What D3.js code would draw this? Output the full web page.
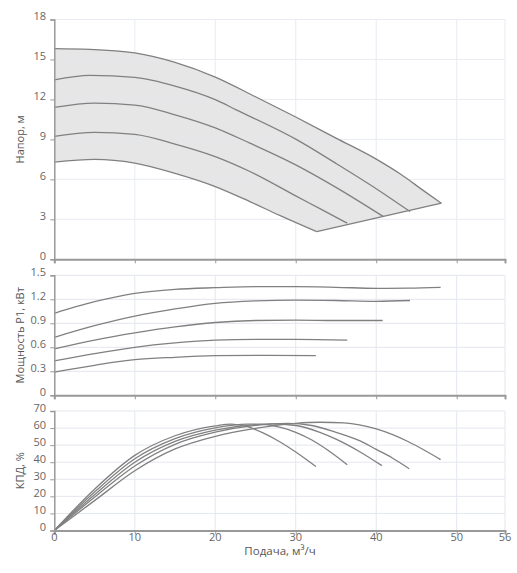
<html>
<head>
    <meta charset="utf-8">
    <title>Pump curves</title>
    <script src="https://d3js.org/d3.v7.min.js"></script>
    <style>
        body { margin: 0; background: #fff; }
        svg { font-family: "Open Sans", sans-serif; }
        .grid line { stroke: #e4e7ef; stroke-width: 1; }
        .tick-label { fill: #666; font-size: 11px; }
        .title { fill: #555; font-size: 11px; }
    </style>
</head>
<body>
<script>

    // Подача (x), м³/ч
    var xTicks = [0, 10, 20, 30, 40, 50, 56];

    // Напор, м - 5 speed curves, [flow, head]
    var head1 = [[0, 7.29], [5, 7.5], [10, 7.22], [15, 6.45], [20, 5.46], [24.3, 4.33], [28, 3.3], [32.6, 2.08]];
    var head2 = [[0, 9.22], [5, 9.53], [10, 9.37], [15, 8.65], [20, 7.71], [24.3, 6.59], [30, 4.76], [33, 3.8], [36.4, 2.71]];
    var head3 = [[0, 11.4], [5, 11.72], [10, 11.58], [15, 10.85], [20, 9.87], [24.3, 8.72], [30, 7.09], [35, 5.4], [40.9, 3.2]];
    var head4 = [[0, 13.46], [4.4, 13.8], [10, 13.65], [15, 13.0], [20, 11.98], [22.6, 11.22], [30, 9.02], [35, 7.2], [40, 5.3], [44.2, 3.58]];
    var head5 = [[0, 15.81], [4.4, 15.76], [10, 15.49], [15, 14.78], [20, 13.68], [25, 12.2], [30, 10.68], [35, 9.1], [40, 7.52], [43, 6.4], [46, 5.1], [48.1, 4.21]];
    var headTicks = [0, 3, 6, 9, 12, 15, 18];

    // Мощность P1, кВт
    var power1 = [[0, 0.29], [5, 0.375], [10, 0.445], [15, 0.475], [20, 0.495], [25, 0.5], [32.5, 0.495]];
    var power2 = [[0, 0.43], [5, 0.52], [10, 0.6], [15, 0.655], [20, 0.69], [25, 0.7], [30, 0.7], [36.4, 0.69]];
    var power3 = [[0, 0.58], [5, 0.69], [10, 0.78], [15, 0.855], [20, 0.91], [25, 0.935], [30, 0.94], [35, 0.935], [40.8, 0.935]];
    var power4 = [[0, 0.725], [5, 0.87], [10, 0.99], [15, 1.08], [20, 1.15], [25, 1.18], [30, 1.19], [35, 1.185], [40, 1.175], [44.2, 1.185]];
    var power5 = [[0, 1.025], [5, 1.17], [10, 1.275], [15, 1.325], [20, 1.345], [25, 1.358], [30, 1.358], [35, 1.35], [40, 1.337], [44, 1.34], [48, 1.35]];
    var powerTicks = [0, 0.3, 0.6, 0.9, 1.2, 1.5];

    // КПД, %
    var eff1 = [[0, 0], [5, 24.2], [10, 44], [15, 55.5], [20, 61.3], [22, 62.3], [24, 60.8], [26, 57], [28, 52], [30, 46], [32.5, 37.5]];
    var eff2 = [[0, 0], [5, 22.5], [10, 42], [15, 53.8], [20, 60.1], [24, 62.3], [26, 62.2], [28, 60.5], [30, 57.5], [32, 53], [34, 47], [36.4, 38.5]];
    var eff3 = [[0, 0], [5, 21], [10, 40], [15, 52.2], [20, 58.8], [25, 62], [27, 62.4], [30, 61.5], [33, 57.5], [35, 53.5], [38, 46], [40.7, 38]];
    var eff4 = [[0, 0], [5, 19.5], [10, 37.8], [15, 50.5], [20, 57.6], [25, 61.6], [29, 62.7], [32, 61.5], [35, 57.5], [38, 52.5], [40, 47.5], [42, 42.5], [44.1, 36.2]];
    var eff5 = [[0, 0], [5, 17.5], [10, 35], [15, 47.8], [20, 55.2], [25, 59.8], [30, 62.8], [33, 63.4], [36, 63], [40, 59.5], [44, 52], [46, 47], [48, 41.5]];
    var effTicks = [0, 10, 20, 30, 40, 50, 60, 70];

    var width = 517,
        height = 573;

    var svg = d3.select("body")
        .append("svg")
        .attr("width", width)
        .attr("height", height);

    var x = d3.scaleLinear().domain([0, 56]).range([54.3, 505]);

    var panels = [
        {title: "Напор, м", ticks: headTicks, max: 18, top: 19.5, bottom: 259.3,
            series: [head1, head2, head3, head4, head5], envelope: true},
        {title: "Мощность P1, кВт", ticks: powerTicks, max: 1.5, top: 275.3, bottom: 395.3,
            series: [power1, power2, power3, power4, power5]},
        {title: "КПД, %", ticks: effTicks, max: 70, top: 411, bottom: 530.5,
            series: [eff1, eff2, eff3, eff4, eff5], xLabels: true}
    ];

    panels.forEach(function (p) {
        var y = d3.scaleLinear().domain([0, p.max]).range([p.bottom, p.top]);
        var g = svg.append("g");

        var line = d3.line()
            .x(d => x(d[0]))
            .y(d => y(d[1]))
            .curve(d3.curveMonotoneX);

        if (p.envelope) {
            var upper = p.series[4], lower = p.series[0];
            var dUp = line(upper);
            var dLow = line(lower.slice().reverse());
            g.append("path")
                .attr("d", dUp + "L" + dLow.slice(1) + "Z")
                .attr("fill", "#e6e6e6")
                .attr("stroke", "none");
        }

        // grid (drawn over the fill, as in the original)
        var grid = g.append("g").attr("class", "grid").attr("opacity", p.envelope ? 0.8 : 1);
        grid.selectAll(".gx").data(xTicks.slice(1)).enter().append("line")
            .attr("x1", d => x(d)).attr("x2", d => x(d))
            .attr("y1", p.top).attr("y2", p.bottom);
        grid.selectAll(".gy").data(p.ticks.slice(1)).enter().append("line")
            .attr("x1", x(0)).attr("x2", x(56))
            .attr("y1", d => y(d)).attr("y2", d => y(d));

        if (p.envelope) {
            // lower boundary between curve ends
            g.append("path")
                .attr("d", d3.line().x(d => x(d[0])).y(d => y(d[1]))([upper[upper.length - 1], lower[lower.length - 1]]))
                .attr("fill", "none")
                .attr("stroke", "#808080")
                .attr("stroke-linejoin", "round")
                .attr("stroke-width", 1.3);
        }

        g.selectAll(".curve").data(p.series).enter().append("path")
            .attr("d", line)
            .attr("fill", "none")
            .attr("stroke", "#808080")
            .attr("stroke-width", 1.3);

        // y axis
        var yAxis = d3.axisLeft(y).tickValues(p.ticks).tickSize(4).tickFormat("");
        var ya = g.append("g").attr("transform", "translate(" + x(0) + ",0)").call(yAxis);
        ya.select(".domain").attr("stroke", "#999").attr("stroke-width", 1.5);
        ya.selectAll(".tick line").attr("stroke", "#999");

        g.selectAll(".ylab").data(p.ticks).enter().append("text")
            .attr("class", "tick-label")
            .attr("x", 46)
            .attr("y", d => y(d) + 0.5)
            .attr("text-anchor", "end")
            .text(d => d);

        // x axis
        var xAxis = d3.axisBottom(x).tickValues(xTicks).tickSize(4).tickFormat("");
        var xa = g.append("g").attr("transform", "translate(0," + p.bottom + ")").call(xAxis);
        xa.select(".domain").attr("stroke", "#999").attr("stroke-width", 2);
        xa.selectAll(".tick line").attr("stroke", "#999");

        if (p.xLabels) {
            g.selectAll(".xlab").data(xTicks).enter().append("text")
                .attr("class", "tick-label")
                .attr("x", d => x(d))
                .attr("y", p.bottom + 10.5)
                .attr("text-anchor", "middle")
                .text(d => d);
        }

        g.append("text")
            .attr("class", "title")
            .attr("transform", "translate(24," + ((p.top + p.bottom) / 2) + ") rotate(-90)")
            .attr("text-anchor", "middle")
            .text(p.title);
    });

    svg.append("text")
        .attr("class", "title")
        .attr("x", 280)
        .attr("y", 555)
        .attr("text-anchor", "middle")
        .style("font-size", "11.5px")
        .text("Подача, м³/ч");

</script>
</body>
</html>
